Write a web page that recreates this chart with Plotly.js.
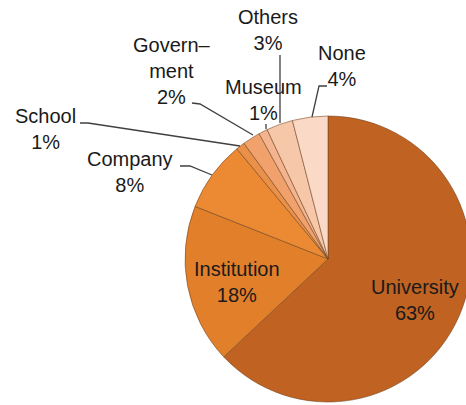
<!DOCTYPE html>
<html>
<head>
<meta charset="utf-8">
<script src="https://cdn.plot.ly/plotly-3.0.1.min.js"></script>
<style>
html,body{margin:0;padding:0;background:#fff;overflow:hidden;}
#chart{width:472px;height:405px;}
</style>
</head>
<body>
<div id="chart"></div>
<script>
// Data
const categories = ['University', 'Institution', 'Company', 'School', 'Government', 'Museum', 'Others', 'None'];
const values = [63, 18, 8, 1, 2, 1, 3, 4];
const labelText = ['University', 'Institution', 'Company', 'School', 'Govern–<br>ment', 'Museum', 'Others', 'None'];
const sliceColors = ['#BF6222', '#E27F2B', '#EC8A33', '#EA9049', '#F0A16C', '#F4B48F', '#F7C7AA', '#FAD9C7'];

const W = 472, H = 405;
function px(x) { return x / W; }
function py(y) { return 1 - y / H; }

// label centres (pixels) and leader lines
const labelPos = [[415, 300], [237, 282], [130, 172], [45, 129], [172, 71], [263, 100], [268, 30], [342, 66]];
const leaders = [
  null, null,
  [[180, 166], [190, 166], [212, 175]],
  [[80, 123], [88, 123], [240, 146]],
  [[192, 103], [200, 104], [253, 135]],
  [[266, 124], [266, 129]],
  [[280, 55], [280, 123]],
  [[327, 86], [319, 86], [312, 117]]
];

const annotations = categories.map((c, i) => ({
  xref: 'paper', yref: 'paper',
  x: px(labelPos[i][0]), y: py(labelPos[i][1]),
  xanchor: 'center', yanchor: 'middle',
  text: labelText[i] + '<br>' + values[i] + '%',
  showarrow: false,
  font: { family: 'Liberation Sans, Arial, sans-serif', size: 20, color: '#1a1a1a' }
}));

const shapes = leaders.filter(l => l).map(l => ({
  type: 'path', xref: 'paper', yref: 'paper',
  path: l.map((p, j) => (j ? 'L' : 'M') + px(p[0]) + ',' + py(p[1])).join(' '),
  line: { color: '#404040', width: 1.3 }
}));

const trace = {
  type: 'pie',
  labels: categories,
  values: values,
  sort: false,
  direction: 'clockwise',
  rotation: 0,
  textinfo: 'none',
  hoverinfo: 'label+percent',
  marker: { colors: sliceColors, line: { color: 'rgba(110,65,30,0.55)', width: 1 } },
  domain: { x: [185 / W, 471 / W], y: [py(402), py(116)] }
};

const layout = {
  width: W, height: H,
  margin: { l: 0, r: 0, t: 0, b: 0 },
  paper_bgcolor: '#ffffff',
  plot_bgcolor: '#ffffff',
  showlegend: false,
  annotations: annotations,
  shapes: shapes
};

Plotly.newPlot('chart', [trace], layout, { displayModeBar: false, staticPlot: true });
</script>
</body>
</html>
